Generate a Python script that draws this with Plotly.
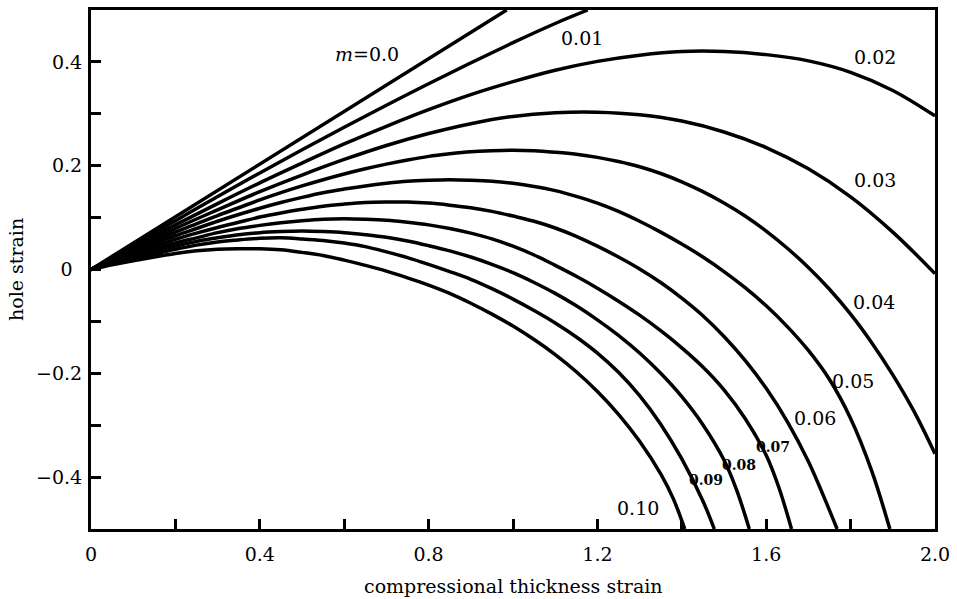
import plotly.graph_objects as go

# Strain-rate sensitivity values, one curve each
m_values = [0.00, 0.01, 0.02, 0.03, 0.04, 0.05, 0.06, 0.07, 0.08, 0.09, 0.10]

# Compressional thickness strain (x) and hole strain (y) for each m
strain_m000 = [0.0, 0.985]
hole_m000 = [0.0, 0.5]

strain_m001 = [0.0, 0.1, 0.2, 0.4, 0.6, 0.8, 1.0, 1.1, 1.177]
hole_m001 = [0.0, 0.047, 0.094, 0.186, 0.274, 0.358, 0.437, 0.474, 0.5]

strain_m002 = [0.0, 0.1, 0.2, 0.3, 0.4, 0.5, 0.6, 0.7, 0.8, 0.9, 1.0,
               1.1, 1.2, 1.3, 1.4, 1.5, 1.6, 1.7, 1.8, 1.9, 2.0]
hole_m002 = [0.0, 0.044, 0.086, 0.127, 0.167, 0.205, 0.242, 0.276, 0.308, 0.337, 0.362,
             0.384, 0.401, 0.413, 0.420, 0.420, 0.414, 0.402, 0.380, 0.345, 0.296]

strain_m003 = [0.0, 0.1, 0.2, 0.3, 0.4, 0.5, 0.6, 0.7, 0.8, 0.9, 1.0,
               1.1, 1.2, 1.3, 1.4, 1.5, 1.6, 1.7, 1.8, 1.9, 2.0]
hole_m003 = [0.0, 0.040, 0.079, 0.115, 0.150, 0.182, 0.212, 0.239, 0.262, 0.281, 0.295,
             0.302, 0.303, 0.298, 0.286, 0.265, 0.235, 0.194, 0.140, 0.072, -0.008]

strain_m004 = [0.0, 0.05, 0.1, 0.15, 0.2, 0.25, 0.3, 0.35, 0.4, 0.45, 0.5,
               0.55, 0.6, 0.65, 0.7, 0.75, 0.8, 0.85, 0.9, 0.95, 1.0,
               1.05, 1.1, 1.15, 1.2, 1.25, 1.3, 1.35, 1.4, 1.45, 1.5,
               1.55, 1.6, 1.65, 1.7, 1.75, 1.8, 1.85, 1.9, 1.95, 2.0]
hole_m004 = [0.0, 0.019, 0.037, 0.055, 0.072, 0.088, 0.104, 0.119, 0.134, 0.148, 0.161,
             0.173, 0.184, 0.194, 0.203, 0.211, 0.218, 0.223, 0.227, 0.229, 0.230,
             0.229, 0.226, 0.222, 0.216, 0.208, 0.198, 0.185, 0.169, 0.150, 0.128,
             0.103, 0.074, 0.041, 0.004, -0.038, -0.086, -0.141, -0.203, -0.273, -0.355]

strain_m005 = [0.0, 0.05, 0.1, 0.15, 0.2, 0.25, 0.3, 0.35, 0.4, 0.45, 0.5,
               0.55, 0.6, 0.65, 0.7, 0.75, 0.8, 0.85, 0.9, 0.95, 1.0,
               1.05, 1.1, 1.15, 1.2, 1.25, 1.3, 1.35, 1.4, 1.45, 1.5,
               1.55, 1.6, 1.65, 1.7, 1.75, 1.8, 1.85, 1.893]
hole_m005 = [0.0, 0.0175, 0.034, 0.050, 0.065, 0.079, 0.093, 0.106, 0.118, 0.129, 0.139,
             0.148, 0.155, 0.161, 0.166, 0.170, 0.172, 0.173, 0.172, 0.170, 0.166,
             0.160, 0.152, 0.141, 0.128, 0.112, 0.093, 0.072, 0.049, 0.024, -0.004,
             -0.035, -0.070, -0.110, -0.156, -0.212, -0.287, -0.388, -0.5]

strain_m006 = [0.0, 0.05, 0.1, 0.15, 0.2, 0.25, 0.3, 0.35, 0.4, 0.45, 0.5,
               0.55, 0.6, 0.65, 0.7, 0.75, 0.8, 0.85, 0.9, 0.95, 1.0,
               1.05, 1.1, 1.15, 1.2, 1.25, 1.3, 1.35, 1.4, 1.45, 1.5,
               1.55, 1.6, 1.65, 1.7, 1.75, 1.768]
hole_m006 = [0.0, 0.0155, 0.030, 0.044, 0.058, 0.070, 0.081, 0.091, 0.101, 0.109, 0.116,
             0.122, 0.126, 0.129, 0.130, 0.130, 0.128, 0.124, 0.119, 0.112, 0.103,
             0.093, 0.080, 0.064, 0.045, 0.024, 0.001, -0.025, -0.055, -0.089, -0.129,
             -0.175, -0.229, -0.293, -0.370, -0.464, -0.5]

strain_m007 = [0.0, 0.05, 0.1, 0.15, 0.2, 0.25, 0.3, 0.35, 0.4, 0.45, 0.5,
               0.55, 0.6, 0.65, 0.7, 0.75, 0.8, 0.85, 0.9, 0.95, 1.0,
               1.05, 1.1, 1.15, 1.2, 1.25, 1.3, 1.35, 1.4, 1.45, 1.5,
               1.55, 1.6, 1.63, 1.66]
hole_m007 = [0.0, 0.014, 0.027, 0.039, 0.051, 0.061, 0.071, 0.079, 0.085, 0.090, 0.094,
             0.097, 0.098, 0.097, 0.095, 0.091, 0.086, 0.079, 0.070, 0.059, 0.045,
             0.028, 0.008, -0.013, -0.036, -0.061, -0.088, -0.118, -0.151, -0.188, -0.232,
             -0.287, -0.358, -0.420, -0.5]

strain_m008 = [0.0, 0.05, 0.1, 0.15, 0.2, 0.25, 0.3, 0.35, 0.4, 0.45, 0.5,
               0.55, 0.6, 0.65, 0.7, 0.75, 0.8, 0.85, 0.9, 0.95, 1.0,
               1.05, 1.1, 1.15, 1.2, 1.25, 1.3, 1.35, 1.4, 1.45, 1.5,
               1.53, 1.56]
hole_m008 = [0.0, 0.0125, 0.024, 0.035, 0.045, 0.054, 0.061, 0.067, 0.071, 0.073, 0.074,
             0.073, 0.071, 0.067, 0.062, 0.055, 0.046, 0.036, 0.024, 0.010, -0.006,
             -0.025, -0.046, -0.070, -0.097, -0.127, -0.161, -0.200, -0.245, -0.299, -0.367,
             -0.425, -0.5]

strain_m009 = [0.0, 0.05, 0.1, 0.15, 0.2, 0.25, 0.3, 0.35, 0.4, 0.45, 0.5,
               0.55, 0.6, 0.65, 0.7, 0.75, 0.8, 0.85, 0.9, 0.95, 1.0,
               1.05, 1.1, 1.15, 1.2, 1.25, 1.3, 1.35, 1.4, 1.45, 1.477]
hole_m009 = [0.0, 0.011, 0.021, 0.030, 0.039, 0.047, 0.053, 0.057, 0.060, 0.061, 0.059,
             0.056, 0.051, 0.044, 0.034, 0.023, 0.010, -0.004, -0.019, -0.037, -0.057,
             -0.079, -0.103, -0.130, -0.161, -0.198, -0.243, -0.298, -0.365, -0.446, -0.5]

strain_m010 = [0.0, 0.05, 0.1, 0.15, 0.2, 0.25, 0.3, 0.35, 0.4, 0.45, 0.5,
               0.55, 0.6, 0.65, 0.7, 0.75, 0.8, 0.85, 0.9, 0.95, 1.0,
               1.05, 1.1, 1.15, 1.2, 1.25, 1.3, 1.35, 1.38, 1.407]
hole_m010 = [0.0, 0.009, 0.017, 0.024, 0.031, 0.036, 0.039, 0.040, 0.040, 0.038, 0.033,
             0.027, 0.018, 0.008, -0.003, -0.016, -0.030, -0.046, -0.065, -0.086, -0.109,
             -0.135, -0.164, -0.197, -0.235, -0.279, -0.331, -0.394, -0.442, -0.5]

curves = [
    (strain_m000, hole_m000), (strain_m001, hole_m001), (strain_m002, hole_m002),
    (strain_m003, hole_m003), (strain_m004, hole_m004), (strain_m005, hole_m005),
    (strain_m006, hole_m006), (strain_m007, hole_m007), (strain_m008, hole_m008),
    (strain_m009, hole_m009), (strain_m010, hole_m010),
]
for xs, ys in curves:
    assert len(xs) == len(ys)

# Axis ticks and their labels
x_tick_values = [0.0, 0.2, 0.4, 0.6, 0.8, 1.0, 1.2, 1.4, 1.6, 1.8, 2.0]
x_tick_labels = ["0", "", "0.4", "", "0.8", "", "1.2", "", "1.6", "", "2.0"]
y_tick_values = [-0.4, -0.3, -0.2, -0.1, 0.0, 0.1, 0.2, 0.3, 0.4]
y_tick_labels = ["\u22120.4", "", "\u22120.2", "", "0\u2002", "", "0.2", "", "0.4"]

# Where each curve's m label sits (data coordinates), its size and weight
label_pos = [(0.653, 0.416), (1.164, 0.447), (1.858, 0.409), (1.858, 0.172),
             (1.855, -0.062), (1.805, -0.214), (1.715, -0.287), (1.617, -0.342),
             (1.535, -0.376), (1.458, -0.405), (1.297, -0.459)]
label_size = [19, 19, 19, 19, 19, 19, 19, 14, 14, 14, 19]
label_bold = [False] * 7 + [True] * 3 + [False]

FONT = "DejaVu Serif"

fig = go.Figure()
for m, (xs, ys) in zip(m_values, curves):
    fig.add_trace(go.Scatter(
        x=xs, y=ys, mode="lines", name=f"m={m:.2f}",
        line=dict(color="black", width=3.5, shape="spline", smoothing=1.0),
        showlegend=False, hoverinfo="skip",
    ))

for i, (m, (lx, ly), fs, bold) in enumerate(zip(m_values, label_pos, label_size, label_bold)):
    text = f"<i>m</i>={m:.1f}" if i == 0 else f"{m:.2f}"
    if bold:
        text = f"<b>{text}</b>"
    fig.add_annotation(
        x=lx, y=ly, xref="x", yref="y", text=text, showarrow=False,
        font=dict(family=FONT, size=fs, color="black"),
        xanchor="center", yanchor="middle",
    )

fig.add_annotation(
    x=0.5, y=-0.11, xref="paper", yref="paper",
    text="compressional thickness strain", showarrow=False,
    font=dict(family=FONT, size=19, color="black"),
    xanchor="center", yanchor="middle",
)
fig.add_annotation(
    x=-0.0895, y=0.5, xref="paper", yref="paper",
    text="hole strain", showarrow=False, textangle=-90,
    font=dict(family=FONT, size=19, color="black"),
    xanchor="center", yanchor="middle",
)

axis_common = dict(
    showgrid=False, zeroline=False, showline=True, linecolor="black",
    linewidth=3, mirror=True, ticks="inside", ticklen=10, tickwidth=3,
    tickcolor="black", tickfont=dict(family=FONT, size=19, color="black"),
)

fig.update_layout(
    width=957, height=599,
    margin=dict(l=91, r=17, t=7, b=70),
    paper_bgcolor="white", plot_bgcolor="white",
    xaxis=dict(range=[0, 2.0], tickmode="array", tickvals=x_tick_values,
               ticktext=x_tick_labels, ticklabelstandoff=6, **axis_common),
    yaxis=dict(range=[-0.5, 0.5], tickmode="array", tickvals=y_tick_values,
               ticktext=y_tick_labels, ticklabelstandoff=2, **axis_common),
)

fig.write_html("out.html")
